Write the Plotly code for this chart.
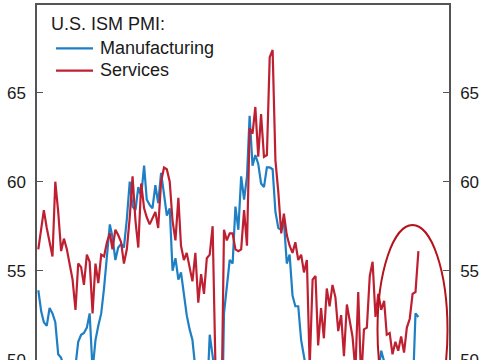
import pandas as pd
import plotly.graph_objects as go

months = pd.date_range("2015-01-01", periods=134, freq="MS")

manufacturing = [
    53.9, 52.7, 52.1, 51.9, 52.9, 52.6, 52.1, 50.3, 50.1, 49.6, 48.6, 48.0,
    48.2, 49.5, 51.0, 51.4, 51.5, 51.8, 52.6, 49.4, 51.1, 51.9, 52.6, 54.0,
    55.6, 57.6, 56.9, 55.6, 56.3, 56.5, 56.3, 57.9, 60.0, 58.6, 58.4, 59.7,
    59.2, 60.9, 59.0, 58.7, 58.5, 59.8, 58.8, 60.5, 59.3, 58.1, 58.5, 55.0,
    55.7, 54.5, 54.9, 53.6, 52.5, 51.7, 51.1, 49.5, 48.2, 48.5, 48.1, 47.5,
    51.4, 50.1, 49.1, 41.5, 43.1, 52.6, 54.2, 55.6, 55.4, 58.6, 57.3, 60.3,
    59.0, 60.3, 63.7, 60.9, 61.5, 61.0, 59.9, 59.7, 60.8, 60.8, 60.7, 58.3,
    57.4, 57.3, 57.8, 55.4, 55.9, 53.6, 53.0, 53.0, 51.1, 50.1, 49.0, 48.4,
    47.4, 47.7, 46.3, 47.1, 46.9, 46.0, 46.4, 47.6, 49.0, 46.7, 46.7, 47.4,
    49.1, 47.8, 49.8, 49.2, 48.7, 48.5, 46.8, 47.2, 47.2, 46.5, 48.4, 49.3,
    50.5, 49.9, 49.0, 48.7, 48.5, 49.0, 48.0, 48.7, 49.1, 48.7, 48.2, 47.9,
    52.6, 52.4,
]

services = [
    56.2, 57.5, 58.4, 57.4, 56.6, 55.8, 60.0, 58.3, 56.1, 56.8, 56.2, 55.3,
    54.5, 52.8, 55.4, 55.2, 54.2, 55.9, 55.5, 52.6, 55.4, 54.3, 55.9, 55.8,
    56.6, 57.1, 56.2, 57.3, 57.0, 56.6, 55.4, 56.2, 58.0, 60.3, 57.8, 56.3,
    59.9, 58.5, 58.0, 57.6, 58.0, 58.3, 57.4, 60.0, 60.8, 60.7, 60.0, 57.8,
    56.7, 59.1, 56.4, 55.6, 56.0, 55.1, 54.4, 56.0, 53.2, 54.8, 53.7, 55.7,
    55.9, 57.5, 52.5, 41.8, 45.4, 57.3, 56.7, 57.1, 57.1, 56.2, 56.1, 56.2,
    58.4, 56.4, 63.0, 62.7, 64.2, 61.4, 63.8, 61.4, 61.5, 67.0, 67.4, 61.2,
    59.4, 57.1, 58.2, 57.0, 56.4, 56.0, 56.6, 55.6, 55.9, 54.9, 55.6, 49.6,
    54.5, 54.7, 50.8, 52.9, 51.2, 54.0, 53.0, 54.2, 53.5, 51.6, 52.5, 50.2,
    53.1, 52.2, 51.3, 49.4, 53.8, 48.8, 51.7, 51.8, 54.7, 55.5, 52.4, 53.7,
    52.8, 53.3, 51.4, 51.5, 50.3, 51.0, 50.5, 51.3, 50.4, 51.8, 52.3, 53.7,
    53.8, 56.1,
]

y_ticks = [50, 55, 60, 65]
legend_title = "U.S. ISM PMI:"
series_names = ["Manufacturing", "Services"]

BLUE = "#1f7fc4"
RED = "#be2032"
AXIS = "#555555"
TXT = "#1a1a1a"
FONT = "Liberation Sans, Arial, sans-serif"

fig = go.Figure()
fig.add_trace(go.Scatter(x=months, y=manufacturing, mode="lines", name=series_names[0],
                         line=dict(color=BLUE, width=2.2)))
fig.add_trace(go.Scatter(x=months, y=services, mode="lines", name=series_names[1],
                         line=dict(color=RED, width=2.2)))
# invisible trace to activate right axis
fig.add_trace(go.Scatter(x=months[:1], y=[60], yaxis="y2", mode="markers",
                         marker=dict(opacity=0), showlegend=False, hoverinfo="skip"))

yr = [49.98, 69.93]
axis_common = dict(range=yr, tickvals=y_ticks, showgrid=False, zeroline=False,
                   ticks="inside", ticklen=6, tickwidth=1.2, tickcolor=AXIS,
                   showline=True, linecolor=AXIS, linewidth=1.5, automargin=False,
                   ticklabelstandoff=6, ticklabeloverflow="allow",
                   tickfont=dict(size=17, color=TXT))
fig.update_layout(
    width=485, height=360,
    margin=dict(l=37, r=36, t=5, b=0),
    paper_bgcolor="white", plot_bgcolor="white",
    showlegend=False,
    font=dict(family=FONT, color=TXT, size=17),
    xaxis=dict(range=["2014-12-18", "2026-12-24"], showgrid=False, zeroline=False,
               showticklabels=False, ticks="", side="top",
               showline=True, linecolor=AXIS, linewidth=1.5),
    yaxis=dict(**axis_common),
    yaxis2=dict(**axis_common, overlaying="y", side="right"),
)

W = 412.0
H = 355.0
def px(X):
    return (X - 37) / W
def py(Y):
    return (360 - Y) / H

# legend (manual)
fig.add_annotation(x=px(49), y=py(23.5), xref="paper", yref="paper", text=legend_title,
                   showarrow=False, xanchor="left", yanchor="middle",
                   font=dict(size=18, color=TXT, family=FONT))
for name, col, Yc in [(series_names[0], BLUE, 48.3), (series_names[1], RED, 70.7)]:
    fig.add_shape(type="line", xref="paper", yref="paper",
                  x0=px(56), x1=px(93), y0=py(Yc), y1=py(Yc),
                  line=dict(color=col, width=2.2))
    fig.add_annotation(x=px(98), y=py(Yc - 0.5), xref="paper", yref="paper", text=name,
                       showarrow=False, xanchor="left", yanchor="middle",
                       font=dict(size=18, color=TXT, family=FONT))

# highlight ellipse
fig.add_shape(type="circle", xref="paper", yref="paper",
              x0=px(377.5), x1=px(447.5), y0=py(435), y1=py(225),
              line=dict(color="#b5121b", width=2))

fig.write_html(
    "out.html",
    config={"displayModeBar": False},
    post_script="document.body.style.margin='0';document.body.style.padding='0';"
                "document.documentElement.style.overflow='hidden';",
)
